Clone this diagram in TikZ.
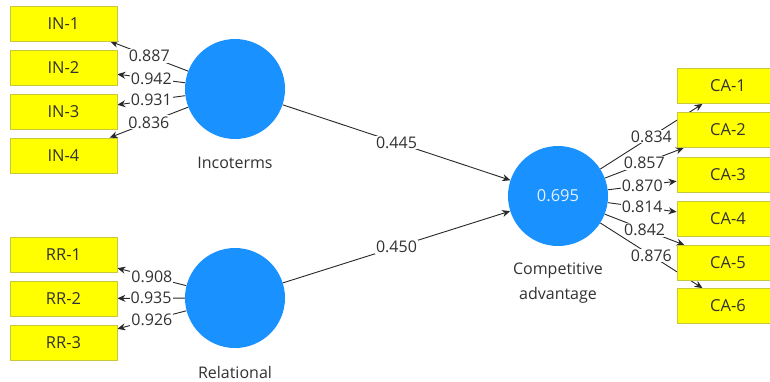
\documentclass[tikz,border=0pt]{standalone}
\usepackage{fontspec}
\setmainfont{Open Sans}
\usetikzlibrary{arrows.meta,backgrounds}
\definecolor{boxfill}{RGB}{255,255,0}
\definecolor{boxline}{RGB}{200,200,60}
\definecolor{lvblue}{RGB}{25,145,255}
\definecolor{txt}{RGB}{50,50,50}
\definecolor{lnc}{RGB}{40,40,40}
\tikzset{
  ind/.style={rectangle, draw=boxline, fill=boxfill, line width=0.8pt, minimum width=107pt, minimum height=35pt, inner sep=0pt, text=txt, font=\fontsize{16.5}{16.5}\selectfont},
  lv/.style={circle, fill=lvblue, minimum size=100pt, inner sep=0pt, text={rgb,255:red,225;green,240;blue,255}, font=\fontsize{16.5}{16.5}\selectfont},
  lvlab/.style={text=txt, font=\fontsize{16}{25}\selectfont, align=center},
  ld/.style={draw=lnc, line width=0.9pt, -{Stealth[length=8pt,width=7pt]}},
  coef/.style={fill=white, inner sep=1pt, text=txt, font=\fontsize{16}{16}\selectfont}
}
\begin{document}
\begin{tikzpicture}[x=1pt,y=-1pt]
\useasboundingbox (0,0) rectangle (770,381);
\clip (0,0) rectangle (770,381);
% latent variables
\node[lv] (inc) at (235,89) {};
\node[lv] (rel) at (235,298) {};
\node[lv] (ca) at (558,196) {0.695};
\node[lvlab] (incl) at (235,163) {Incoterms};
\node[lvlab] (rell) at (235,372) {Relational};
\node[lvlab] (cal) at (558,283) {Competitive\\advantage};
% indicators
\node[ind] (in1) at (63.5,23.5) {IN-1};
\node[ind] (in2) at (63.5,67.5) {IN-2};
\node[ind] (in3) at (63.5,112) {IN-3};
\node[ind] (in4) at (63.5,155.5) {IN-4};
\node[ind] (rr1) at (63.5,254.5) {RR-1};
\node[ind] (rr2) at (63.5,298.5) {RR-2};
\node[ind] (rr3) at (63.5,343) {RR-3};
\node[ind] (ca1) at (730.5,86) {\hspace*{-5pt}CA-1};
\node[ind] (ca2) at (730.5,130) {\hspace*{-5pt}CA-2};
\node[ind] (ca3) at (730.5,174.5) {\hspace*{-5pt}CA-3};
\node[ind] (ca4) at (730.5,219) {\hspace*{-5pt}CA-4};
\node[ind] (ca5) at (730.5,263) {\hspace*{-5pt}CA-5};
\node[ind] (ca6) at (730.5,306) {\hspace*{-5pt}CA-6};
\begin{scope}[on background layer]
\fill[white] (0,0) rectangle (770,381);
\draw[ld] (inc) -- node[coef]{0.887} (in1);
\draw[ld] (inc) -- node[coef]{0.942} (in2);
\draw[ld] (inc) -- node[coef]{0.931} (in3);
\draw[ld] (inc) -- node[coef]{0.836} (in4);
\draw[ld] (rel) -- node[coef]{0.908} (rr1);
\draw[ld] (rel) -- node[coef]{0.935} (rr2);
\draw[ld] (rel) -- node[coef]{0.926} (rr3);
\draw[ld] (ca) -- node[coef]{0.834} (ca1);
\draw[ld] (ca) -- node[coef]{0.857} (ca2);
\draw[ld] (ca) -- node[coef]{0.870} (ca3);
\draw[ld] (ca) -- node[coef]{0.814} (ca4);
\draw[ld] (ca) -- node[coef]{0.842} (ca5);
\draw[ld] (ca) -- node[coef]{0.876} (ca6);
\draw[ld] (inc) -- node[coef]{0.445} (ca);
\draw[ld] (rel) -- node[coef]{0.450} (ca);
\end{scope}
\end{tikzpicture}
\end{document}
